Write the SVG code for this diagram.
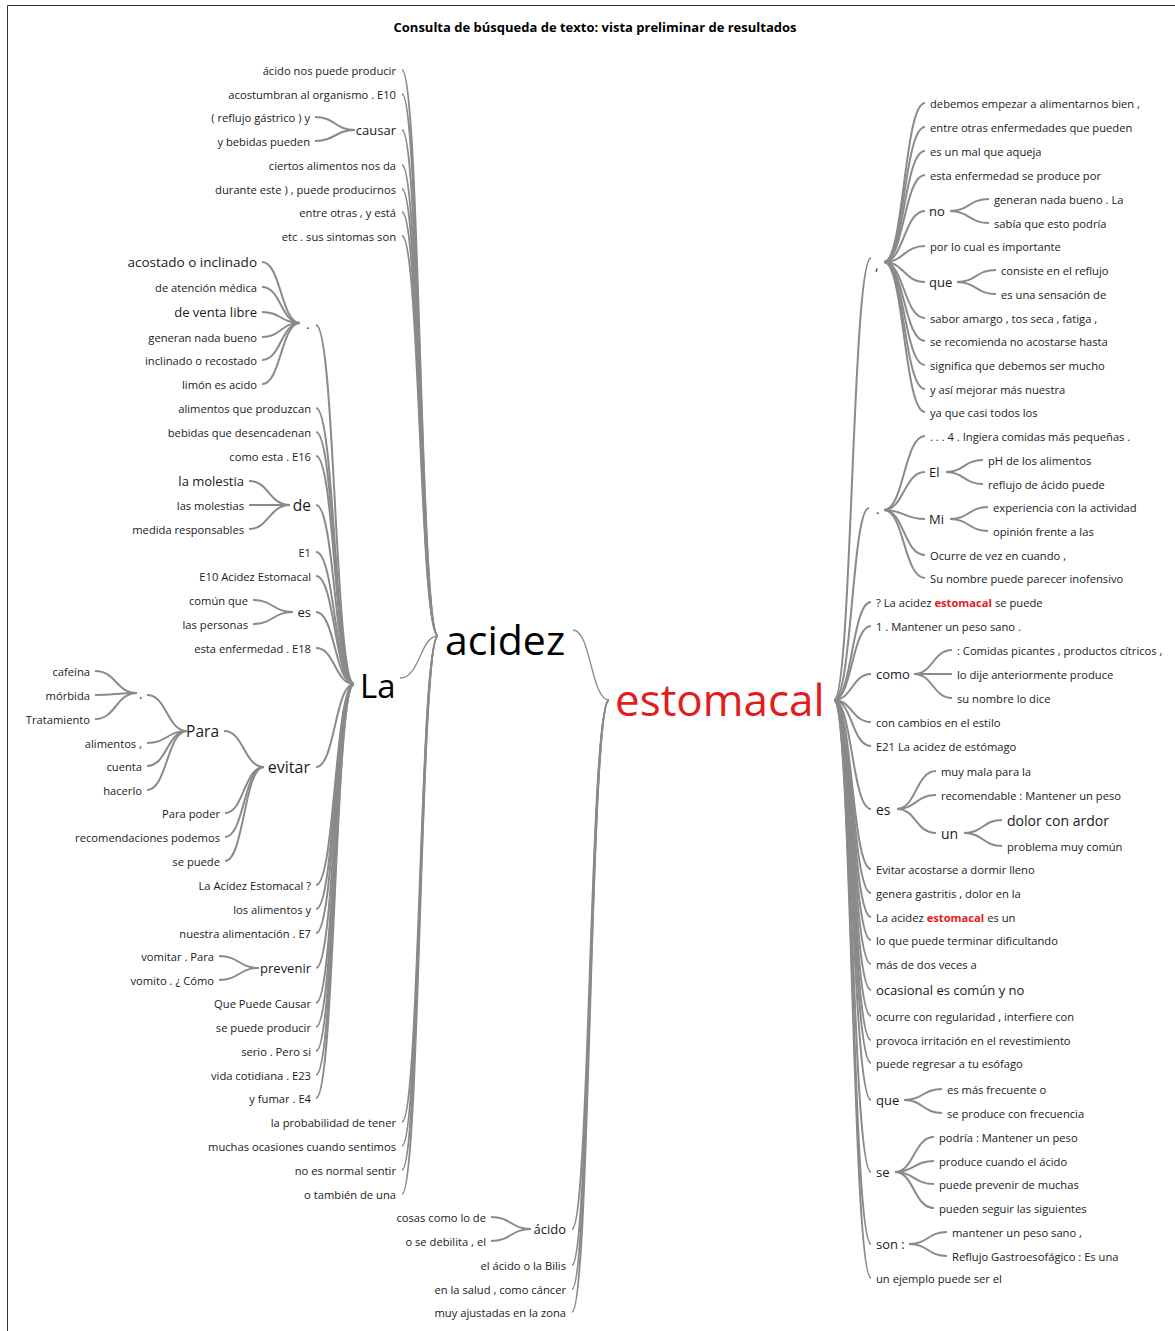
<svg xmlns="http://www.w3.org/2000/svg" width="1175" height="1331" viewBox="0 0 1175 1331">
<style>
text{font-family:"Open Sans","Liberation Sans",sans-serif;font-size:11.2px;fill:#1a1a1a;dominant-baseline:central}
.e{text-anchor:end}
.m{font-size:13px}
.l{font-size:14px}
.xl{font-size:15.5px}
.title{font-size:13px;font-weight:bold;text-anchor:middle;fill:#000}
.big{dominant-baseline:alphabetic;fill:#000}
.red{fill:#e31b1b}
.rb{fill:#e31b1b;font-weight:bold}
.c path{fill:none;stroke:#8a8a8a;stroke-width:2}
.c .thin{stroke-width:1.3}
</style>
<rect width="1175" height="1331" fill="#fff"/>
<path d="M7.5 1331V5.5H1175" fill="none" stroke="#333" stroke-width="1"/>
<text class="title" x="595" y="27">Consulta de búsqueda de texto: vista preliminar de resultados</text>

<g class="c" id="connectors">
<path d="M402 70C420 70 420 636 438 636"/>
<path d="M402 94C420 94 420 636 438 636"/>
<path d="M402 130C420 130 420 636 438 636"/>
<path d="M402 165C420 165 420 636 438 636"/>
<path d="M402 189C420 189 420 636 438 636"/>
<path d="M402 212C420 212 420 636 438 636"/>
<path d="M402 236C420 236 420 636 438 636"/>
<path class="thin" d="M400 678C420 678 420 636 438 636"/>
<path d="M402 1122C420 1122 420 636 438 636"/>
<path d="M402 1146C420 1146 420 636 438 636"/>
<path d="M402 1170C420 1170 420 636 438 636"/>
<path d="M402 1194C420 1194 420 636 438 636"/>
<path d="M315 117C335 117 335 130 355 130"/>
<path d="M315 141C335 141 335 130 355 130"/>
<path d="M316 325C335 325 335 684 354 684"/>
<path d="M316 408C335 408 335 684 354 684"/>
<path d="M316 432C335 432 335 684 354 684"/>
<path d="M316 456C335 456 335 684 354 684"/>
<path d="M316 505C335 505 335 684 354 684"/>
<path d="M316 552C335 552 335 684 354 684"/>
<path d="M316 576C335 576 335 684 354 684"/>
<path d="M316 612C335 612 335 684 354 684"/>
<path d="M316 648C335 648 335 684 354 684"/>
<path d="M316 767C335 767 335 684 354 684"/>
<path d="M316 885C335 885 335 684 354 684"/>
<path d="M316 909C335 909 335 684 354 684"/>
<path d="M316 933C335 933 335 684 354 684"/>
<path d="M316 968C335 968 335 684 354 684"/>
<path d="M316 1003C335 1003 335 684 354 684"/>
<path d="M316 1027C335 1027 335 684 354 684"/>
<path d="M316 1051C335 1051 335 684 354 684"/>
<path d="M316 1075C335 1075 335 684 354 684"/>
<path d="M316 1098C335 1098 335 684 354 684"/>
<path d="M262 262C281 262 281 323 300 323"/>
<path d="M262 287C281 287 281 323 300 323"/>
<path d="M262 312C281 312 281 323 300 323"/>
<path d="M262 337C281 337 281 323 300 323"/>
<path d="M262 360C281 360 281 323 300 323"/>
<path d="M262 384C281 384 281 323 300 323"/>
<path d="M249 481C269 481 269 505 290 505"/>
<path d="M249 505C269 505 269 505 290 505"/>
<path d="M249 529C269 529 269 505 290 505"/>
<path d="M253 600C273 600 273 612 293 612"/>
<path d="M253 624C273 624 273 612 293 612"/>
<path d="M224 731C244 731 244 767 264 767"/>
<path d="M225 813C244 813 244 767 264 767"/>
<path d="M225 837C244 837 244 767 264 767"/>
<path d="M225 861C244 861 244 767 264 767"/>
<path d="M147 695C167 695 167 731 187 731"/>
<path d="M147 743C167 743 167 731 187 731"/>
<path d="M147 766C167 766 167 731 187 731"/>
<path d="M147 790C167 790 167 731 187 731"/>
<path d="M95 671C116 671 116 693 137 693"/>
<path d="M95 695C116 695 116 693 137 693"/>
<path d="M95 719C116 719 116 693 137 693"/>
<path d="M219 956C239 956 239 968 259 968"/>
<path d="M219 980C239 980 239 968 259 968"/>
<path class="thin" d="M573 630C591 630 591 700 609 700"/>
<path d="M572 1229C590 1229 590 700 609 700"/>
<path d="M572 1265C590 1265 590 700 609 700"/>
<path d="M572 1289C590 1289 590 700 609 700"/>
<path d="M572 1312C590 1312 590 700 609 700"/>
<path d="M491 1217C511 1217 511 1229 531 1229"/>
<path d="M491 1241C511 1241 511 1229 531 1229"/>
<path d="M834 700C852 700 852 258 871 258"/>
<path d="M834 700C852 700 852 508 869 508"/>
<path d="M834 700C852 700 852 602 871 602"/>
<path d="M834 700C852 700 852 626 871 626"/>
<path d="M834 700C852 700 852 674 871 674"/>
<path d="M834 700C852 700 852 722 871 722"/>
<path d="M834 700C852 700 852 746 871 746"/>
<path d="M834 700C852 700 852 809 871 809"/>
<path d="M834 700C852 700 852 869 871 869"/>
<path d="M834 700C852 700 852 893 871 893"/>
<path d="M834 700C852 700 852 917 871 917"/>
<path d="M834 700C852 700 852 940 871 940"/>
<path d="M834 700C852 700 852 964 871 964"/>
<path d="M834 700C852 700 852 990 871 990"/>
<path d="M834 700C852 700 852 1016 871 1016"/>
<path d="M834 700C852 700 852 1040 871 1040"/>
<path d="M834 700C852 700 852 1063 871 1063"/>
<path d="M834 700C852 700 852 1100 871 1100"/>
<path d="M834 700C852 700 852 1172 871 1172"/>
<path d="M834 700C852 700 852 1244 871 1244"/>
<path d="M834 700C852 700 852 1278 871 1278"/>
<path d="M884 262C904 262 904 103 925 103"/>
<path d="M884 262C904 262 904 127 925 127"/>
<path d="M884 262C904 262 904 151 925 151"/>
<path d="M884 262C904 262 904 175 925 175"/>
<path d="M884 262C904 262 904 211 925 211"/>
<path d="M884 262C904 262 904 246 925 246"/>
<path d="M884 262C904 262 904 282 925 282"/>
<path d="M884 262C904 262 904 318 925 318"/>
<path d="M884 262C904 262 904 341 925 341"/>
<path d="M884 262C904 262 904 365 925 365"/>
<path d="M884 262C904 262 904 389 925 389"/>
<path d="M884 262C904 262 904 412 925 412"/>
<path d="M950 211C969 211 969 199 989 199"/>
<path d="M950 211C969 211 969 223 989 223"/>
<path d="M957 282C976 282 976 270 996 270"/>
<path d="M957 282C976 282 976 294 996 294"/>
<path d="M884 510C904 510 904 436 925 436"/>
<path d="M884 510C904 510 904 472 925 472"/>
<path d="M884 510C904 510 904 519 925 519"/>
<path d="M884 510C904 510 904 555 925 555"/>
<path d="M884 510C904 510 904 578 925 578"/>
<path d="M946 472C964 472 964 460 983 460"/>
<path d="M946 472C964 472 964 484 983 484"/>
<path d="M950 519C969 519 969 507 988 507"/>
<path d="M950 519C969 519 969 531 988 531"/>
<path d="M914 674C933 674 933 650 952 650"/>
<path d="M914 674C933 674 933 674 952 674"/>
<path d="M914 674C933 674 933 698 952 698"/>
<path d="M897 809C916 809 916 771 936 771"/>
<path d="M897 809C916 809 916 795 936 795"/>
<path d="M897 809C916 809 916 833 936 833"/>
<path d="M964 833C983 833 983 820 1002 820"/>
<path d="M964 833C983 833 983 846 1002 846"/>
<path d="M904 1100C923 1100 923 1089 942 1089"/>
<path d="M904 1100C923 1100 923 1113 942 1113"/>
<path d="M895 1172C914 1172 914 1137 934 1137"/>
<path d="M895 1172C914 1172 914 1161 934 1161"/>
<path d="M895 1172C914 1172 914 1184 934 1184"/>
<path d="M895 1172C914 1172 914 1208 934 1208"/>
<path d="M909 1244C928 1244 928 1232 947 1232"/>
<path d="M909 1244C928 1244 928 1256 947 1256"/>
</g>

<g id="n-estomacal"><text class="big red" x="615" y="716" style="font-size:44px">estomacal</text></g>
<g id="n-acidez"><text class="big" x="445" y="655" style="font-size:41px">acidez</text></g>
<g id="n-La"><text class="big" x="360" y="698" style="font-size:33px">La</text></g>

<g id="a1"><text class="e" x="396" y="70">ácido nos puede producir</text></g>
<g id="a2"><text class="e" x="396" y="94">acostumbran al organismo . E10</text></g>
<g id="a3"><text class="e m" x="396" y="130">causar</text></g>
<g id="a3a"><text class="e" x="310" y="117">( reflujo gástrico ) y</text></g>
<g id="a3b"><text class="e" x="310" y="141">y bebidas pueden</text></g>
<g id="a4"><text class="e" x="396" y="165">ciertos alimentos nos da</text></g>
<g id="a5"><text class="e" x="396" y="189">durante este ) , puede producirnos</text></g>
<g id="a6"><text class="e" x="396" y="212">entre otras , y está</text></g>
<g id="a7"><text class="e" x="396" y="236">etc . sus sintomas son</text></g>
<g id="a8"><text class="e" x="396" y="1122">la probabilidad de tener</text></g>
<g id="a9"><text class="e" x="396" y="1146">muchas ocasiones cuando sentimos</text></g>
<g id="a10"><text class="e" x="396" y="1170">no es normal sentir</text></g>
<g id="a11"><text class="e" x="396" y="1194">o también de una</text></g>

<g id="l1"><text class="m" x="306" y="324">.</text></g>
<g id="l1a"><text class="e" x="257" y="262" style="font-size:13.5px">acostado o inclinado</text></g>
<g id="l1b"><text class="e" x="257" y="287">de atención médica</text></g>
<g id="l1c"><text class="e m" x="257" y="312">de venta libre</text></g>
<g id="l1d"><text class="e" x="257" y="337">generan nada bueno</text></g>
<g id="l1e"><text class="e" x="257" y="360">inclinado o recostado</text></g>
<g id="l1f"><text class="e" x="257" y="384">limón es acido</text></g>
<g id="l2"><text class="e" x="311" y="408">alimentos que produzcan</text></g>
<g id="l3"><text class="e" x="311" y="432">bebidas que desencadenan</text></g>
<g id="l4"><text class="e" x="311" y="456">como esta . E16</text></g>
<g id="l5"><text class="e xl" x="311" y="505">de</text></g>
<g id="l5a"><text class="e m" x="244" y="481">la molestia</text></g>
<g id="l5b"><text class="e" x="244" y="505">las molestias</text></g>
<g id="l5c"><text class="e" x="244" y="529">medida responsables</text></g>
<g id="l6"><text class="e" x="311" y="552">E1</text></g>
<g id="l7"><text class="e" x="311" y="576">E10 Acidez Estomacal</text></g>
<g id="l8"><text class="e m" x="311" y="612">es</text></g>
<g id="l8a"><text class="e" x="248" y="600">común que</text></g>
<g id="l8b"><text class="e" x="248" y="624">las personas</text></g>
<g id="l9"><text class="e" x="311" y="648">esta enfermedad . E18</text></g>
<g id="l10"><text class="e" x="310" y="767" style="font-size:16px">evitar</text></g>
<g id="l10a"><text class="e xl" x="219" y="731">Para</text></g>
<g id="l10a1"><text class="m" x="139" y="694">.</text></g>
<g id="l10a1a"><text class="e" x="90" y="671">cafeína</text></g>
<g id="l10a1b"><text class="e" x="90" y="695">mórbida</text></g>
<g id="l10a1c"><text class="e" x="90" y="719">Tratamiento</text></g>
<g id="l10a2"><text class="e" x="142" y="743">alimentos ,</text></g>
<g id="l10a3"><text class="e" x="142" y="766">cuenta</text></g>
<g id="l10a4"><text class="e" x="142" y="790">hacerlo</text></g>
<g id="l10b"><text class="e" x="220" y="813">Para poder</text></g>
<g id="l10c"><text class="e" x="220" y="837">recomendaciones podemos</text></g>
<g id="l10d"><text class="e" x="220" y="861">se puede</text></g>
<g id="l11"><text class="e" x="311" y="885">La Acidez Estomacal ?</text></g>
<g id="l12"><text class="e" x="311" y="909">los alimentos y</text></g>
<g id="l13"><text class="e" x="311" y="933">nuestra alimentación . E7</text></g>
<g id="l14"><text class="e m" x="311" y="968">prevenir</text></g>
<g id="l14a"><text class="e" x="214" y="956">vomitar . Para</text></g>
<g id="l14b"><text class="e" x="214" y="980">vomito . ¿ Cómo</text></g>
<g id="l15"><text class="e" x="311" y="1003">Que Puede Causar</text></g>
<g id="l16"><text class="e" x="311" y="1027">se puede producir</text></g>
<g id="l17"><text class="e" x="311" y="1051">serio . Pero si</text></g>
<g id="l18"><text class="e" x="311" y="1075">vida cotidiana . E23</text></g>
<g id="l19"><text class="e" x="311" y="1098">y fumar . E4</text></g>

<g id="b1"><text class="e m" x="566" y="1229">ácido</text></g>
<g id="b1a"><text class="e" x="486" y="1217">cosas como lo de</text></g>
<g id="b1b"><text class="e" x="486" y="1241">o se debilita , el</text></g>
<g id="b2"><text class="e" x="566" y="1265">el ácido o la Bilis</text></g>
<g id="b3"><text class="e" x="566" y="1289">en la salud , como cáncer</text></g>
<g id="b4"><text class="e" x="566" y="1312">muy ajustadas en la zona</text></g>

<g id="r1"><text class="l" x="875" y="264">,</text></g>
<g id="r1a"><text x="930" y="103">debemos empezar a alimentarnos bien ,</text></g>
<g id="r1b"><text x="930" y="127">entre otras enfermedades que pueden</text></g>
<g id="r1c"><text x="930" y="151">es un mal que aqueja</text></g>
<g id="r1d"><text x="930" y="175">esta enfermedad se produce por</text></g>
<g id="r1e"><text class="m" x="929" y="211">no</text></g>
<g id="r1e1"><text x="994" y="199">generan nada bueno . La</text></g>
<g id="r1e2"><text x="994" y="223">sabía que esto podría</text></g>
<g id="r1f"><text x="930" y="246">por lo cual es importante</text></g>
<g id="r1g"><text class="m" x="929" y="282">que</text></g>
<g id="r1g1"><text x="1001" y="270">consiste en el reflujo</text></g>
<g id="r1g2"><text x="1001" y="294">es una sensación de</text></g>
<g id="r1h"><text x="930" y="318">sabor amargo , tos seca , fatiga ,</text></g>
<g id="r1i"><text x="930" y="341">se recomienda no acostarse hasta</text></g>
<g id="r1j"><text x="930" y="365">significa que debemos ser mucho</text></g>
<g id="r1k"><text x="930" y="389">y así mejorar más nuestra</text></g>
<g id="r1l"><text x="930" y="412">ya que casi todos los</text></g>

<g id="r2"><text class="m" x="876" y="509">.</text></g>
<g id="r2a"><text x="930" y="436">. . . 4 . Ingiera comidas más pequeñas .</text></g>
<g id="r2b"><text class="m" x="929" y="472">El</text></g>
<g id="r2b1"><text x="988" y="460">pH de los alimentos</text></g>
<g id="r2b2"><text x="988" y="484">reflujo de ácido puede</text></g>
<g id="r2c"><text class="m" x="929" y="519">Mi</text></g>
<g id="r2c1"><text x="993" y="507">experiencia con la actividad</text></g>
<g id="r2c2"><text x="993" y="531">opinión frente a las</text></g>
<g id="r2d"><text x="930" y="555">Ocurre de vez en cuando ,</text></g>
<g id="r2e"><text x="930" y="578">Su nombre puede parecer inofensivo</text></g>

<g id="r3"><text x="876" y="602">? La acidez <tspan class="rb">estomacal</tspan> se puede</text></g>
<g id="r4"><text x="876" y="626">1 . Mantener un peso sano .</text></g>
<g id="r5"><text class="m" x="876" y="674">como</text></g>
<g id="r5a"><text x="957" y="650">: Comidas picantes , productos cítricos ,</text></g>
<g id="r5b"><text x="957" y="674">lo dije anteriormente produce</text></g>
<g id="r5c"><text x="957" y="698">su nombre lo dice</text></g>
<g id="r6"><text x="876" y="722">con cambios en el estilo</text></g>
<g id="r7"><text x="876" y="746">E21 La acidez de estómago</text></g>
<g id="r8"><text class="l" x="876" y="809">es</text></g>
<g id="r8a"><text x="941" y="771">muy mala para la</text></g>
<g id="r8b"><text x="941" y="795">recomendable : Mantener un peso</text></g>
<g id="r8c"><text class="l" x="941" y="833">un</text></g>
<g id="r8c1"><text class="l" x="1007" y="820">dolor con ardor</text></g>
<g id="r8c2"><text x="1007" y="846">problema muy común</text></g>
<g id="r9"><text x="876" y="869">Evitar acostarse a dormir lleno</text></g>
<g id="r10"><text x="876" y="893">genera gastritis , dolor en la</text></g>
<g id="r11"><text x="876" y="917">La acidez <tspan class="rb">estomacal</tspan> es un</text></g>
<g id="r12"><text x="876" y="940">lo que puede terminar dificultando</text></g>
<g id="r13"><text x="876" y="964">más de dos veces a</text></g>
<g id="r14"><text class="m" x="876" y="990">ocasional es común y no</text></g>
<g id="r15"><text x="876" y="1016">ocurre con regularidad , interfiere con</text></g>
<g id="r16"><text x="876" y="1040">provoca irritación en el revestimiento</text></g>
<g id="r17"><text x="876" y="1063">puede regresar a tu esófago</text></g>
<g id="r18"><text class="m" x="876" y="1100">que</text></g>
<g id="r18a"><text x="947" y="1089">es más frecuente o</text></g>
<g id="r18b"><text x="947" y="1113">se produce con frecuencia</text></g>
<g id="r19"><text class="m" x="876" y="1172">se</text></g>
<g id="r19a"><text x="939" y="1137">podría : Mantener un peso</text></g>
<g id="r19b"><text x="939" y="1161">produce cuando el ácido</text></g>
<g id="r19c"><text x="939" y="1184">puede prevenir de muchas</text></g>
<g id="r19d"><text x="939" y="1208">pueden seguir las siguientes</text></g>
<g id="r20"><text class="m" x="876" y="1244">son :</text></g>
<g id="r20a"><text x="952" y="1232">mantener un peso sano ,</text></g>
<g id="r20b"><text x="952" y="1256">Reflujo Gastroesofágico : Es una</text></g>
<g id="r21"><text x="876" y="1278">un ejemplo puede ser el</text></g>
</svg>
